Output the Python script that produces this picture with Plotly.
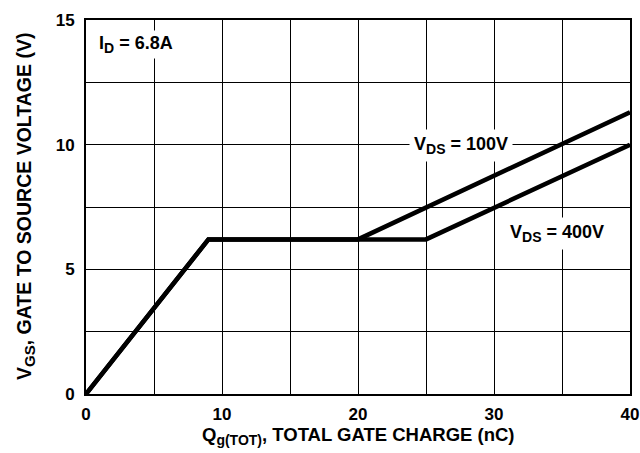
import plotly.graph_objects as go

# Data
qg_100 = [0, 9, 20, 40]
vgs_100 = [0, 6.2, 6.2, 11.3]
qg_400 = [0, 9, 25, 40]
vgs_400 = [0, 6.2, 6.2, 10.0]
x_ticks = [0, 10, 20, 30, 40]
y_ticks = [0, 5, 10, 15]

FONT = "Liberation Sans, Arial, Helvetica, sans-serif"


def sub(s, size=14):
    return f"<sub><span style='font-size:{size}px'>{s}</span></sub>"


fig = go.Figure()
fig.add_trace(go.Scatter(x=qg_100, y=vgs_100, mode="lines",
                         line=dict(color="black", width=4.5), showlegend=False))
fig.add_trace(go.Scatter(x=qg_400, y=vgs_400, mode="lines",
                         line=dict(color="black", width=4.5), showlegend=False))

ann_font = dict(family=FONT, size=18, color="black", weight="bold")
fig.add_annotation(x=0.75, y=14.0, text="I" + sub("D") + " = 6.8A", showarrow=False,
                   xanchor="left", yanchor="middle", font=ann_font,
                   bgcolor="white", borderpad=2)
fig.add_annotation(x=27.6, y=9.95, text="V" + sub("DS") + " = 100V", showarrow=False,
                   xanchor="center", yanchor="middle", font=ann_font,
                   bgcolor="white", borderpad=4)
fig.add_annotation(x=34.65, y=6.45, text="V" + sub("DS") + " = 400V", showarrow=False,
                   xanchor="center", yanchor="middle", font=ann_font,
                   bgcolor="white", borderpad=4)

xtitle_font = dict(family=FONT, size=18.5, color="black", weight="bold")
ytitle_font = dict(family=FONT, size=19.5, color="black", weight="bold")
fig.add_annotation(xref="paper", yref="paper", x=0.5, y=0, yshift=-42,
                   text="Q" + sub("g(TOT)") + ", TOTAL GATE CHARGE (nC)",
                   showarrow=False, xanchor="center", yanchor="middle", font=xtitle_font)
fig.add_annotation(xref="paper", yref="paper", x=0, y=0.5, xshift=-61,
                   text="V" + sub("GS", 15) + ", GATE TO SOURCE VOLTAGE (V)", textangle=-90,
                   showarrow=False, xanchor="center", yanchor="middle", font=ytitle_font)

tick_font = dict(family=FONT, size=17, color="black", weight="bold")
fig.update_xaxes(range=[0, 40], tickvals=x_ticks, ticktext=[str(v) for v in x_ticks],
                 showgrid=True, gridcolor="black", gridwidth=1.2,
                 minor=dict(dtick=5, showgrid=True, gridcolor="black", gridwidth=1.2),
                 showline=True, linecolor="black", linewidth=1.8, mirror=True,
                 zeroline=False, ticks="", automargin=False, ticklabelstandoff=4,
                 tickfont=tick_font)
fig.update_yaxes(range=[0, 15], tickvals=y_ticks, ticktext=[str(v) for v in y_ticks],
                 showgrid=True, gridcolor="black", gridwidth=1.2,
                 minor=dict(dtick=2.5, showgrid=True, gridcolor="black", gridwidth=1.2),
                 showline=True, linecolor="black", linewidth=1.8, mirror=True,
                 zeroline=False, ticks="", automargin=False, ticklabelstandoff=6,
                 tickfont=tick_font)

fig.update_layout(width=640, height=453,
                  margin=dict(l=86, r=10, t=20, b=59, autoexpand=False),
                  plot_bgcolor="white", paper_bgcolor="white")

# remove the browser's default body margin so the figure fills the window
fig.write_html("out.html", config={"displayModeBar": False},
               post_script="document.body.style.margin='0px';document.body.style.overflow='hidden';")
